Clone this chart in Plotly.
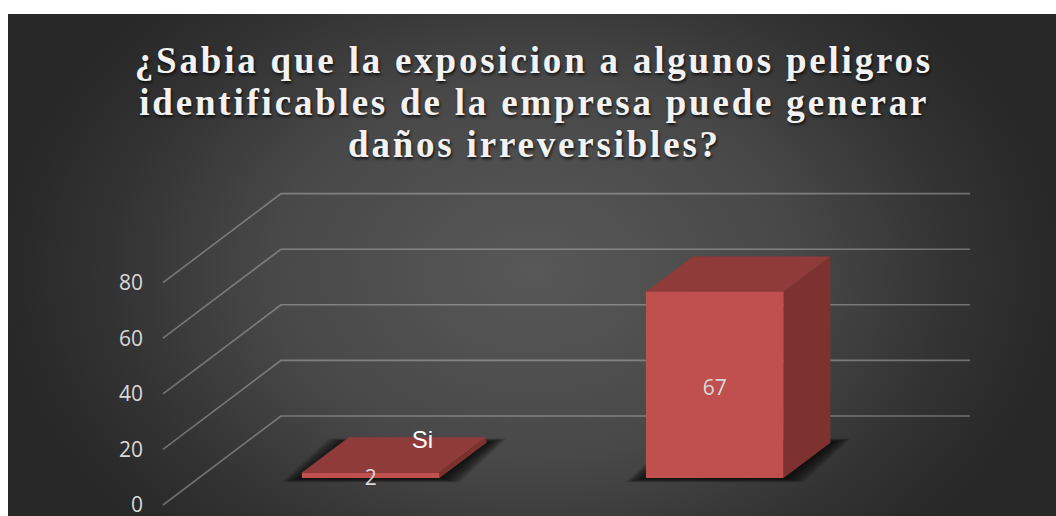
import plotly.graph_objects as go

# ---- data ----
categories = ["Si", "No"]
values = [2, 67]
y_ticks = [0, 20, 40, 60, 80]
title_lines = ["¿Sabia que la exposicion a algunos peligros",
               "identificables de la empresa puede generar",
               "daños irreversibles?"]

# ---- geometry of the oblique projection ----
W, H = 1056, 516
FIG_H = H + 12                       # a little taller than the window so the "0" label is kept
PX_PER_CAT = 344.0
PX_PER_VAL = 2.78
LEFT_PX, ZERO_PX = 163.0, 505.0      # pixel of category 0 / value 0 on the front edge
DEPTH_X = 118 / PX_PER_CAT           # one full depth, in category units
DEPTH_Y = 89 / PX_PER_VAL            # one full depth, in value units
AX_LEFT = 144
BAR_W = 0.4
D0, D1 = 0.303, 0.70
GRID_END = (970 - 163) / PX_PER_CAT
LABEL_DY = 4.5 / PX_PER_VAL
N = len(categories)


def pt(c, v, d=0.0):
    return c + d * DEPTH_X, v + d * DEPTH_Y


def poly(points, color, name, line=None):
    xs = [p[0] for p in points] + [points[0][0]]
    ys = [p[1] for p in points] + [points[0][1]]
    return go.Scatter(x=xs, y=ys, mode="lines", fill="toself", fillcolor=color,
                      line=dict(width=0.8 if line else 0, color=line or color),
                      xaxis="x2", yaxis="y2", hoverinfo="skip", name=name)


fig = go.Figure()

# background: radial gradient panel, clipped by its own axes to the panel area
fig.add_trace(go.Scatter(
    x=[0, 1, 1, 0, 0], y=[0, 0, 1, 1, 0], mode="lines", fill="toself",
    line=dict(width=0), hoverinfo="skip", xaxis="x", yaxis="y",
    fillgradient=dict(type="radial",
                      colorscale=[[0, "#585858"], [0.5, "#484848"], [0.8, "#333333"], [1, "#282828"]]),
))

# gridlines (side wall diagonal + back wall horizontal)
grid_color = "rgba(217,217,217,0.38)"
for t in y_ticks:
    a, b, c = pt(0, t), pt(0, t, 1), pt(GRID_END - DEPTH_X, t, 1)
    fig.add_trace(go.Scatter(x=[a[0], b[0], c[0]], y=[a[1], b[1], c[1]], mode="lines",
                             line=dict(color=grid_color, width=1.6),
                             xaxis="x2", yaxis="y2", hoverinfo="skip"))

# bars
for i, v in enumerate(values):
    cx = i + 0.5
    l, r = cx - BAR_W / 2, cx + BAR_W / 2
    # soft floor shadow
    for k in range(14, 0, -1):
        mx = k * 1.45 / PX_PER_CAT
        my = k * 0.3 / PX_PER_VAL
        fig.add_trace(poly([(pt(l, 0, D0)[0] - mx, pt(l, 0, D0)[1] - my),
                            (pt(r, 0, D0)[0] + mx, pt(r, 0, D0)[1] - my),
                            (pt(r, 0, D1)[0] + mx, pt(r, 0, D1)[1] + my),
                            (pt(l, 0, D1)[0] - mx, pt(l, 0, D1)[1] + my)],
                           "rgba(10,10,10,0.10)", "shadow"))
    # right side
    fig.add_trace(poly([pt(r, 0, D0), pt(r, 0, D1), pt(r, v, D1), pt(r, v, D0)],
                       "#7d3230", "side"))
    # top
    fig.add_trace(poly([pt(l, v, D0), pt(r, v, D0), pt(r, v, D1), pt(l, v, D1)],
                       "#8f3b39", "top"))
    # front
    fig.add_trace(poly([pt(l, 0, D0), pt(r, 0, D0), pt(r, v, D0), pt(l, v, D0)],
                       "#c0504d", "front"))

# value labels
lx, ly = [], []
for i, v in enumerate(values):
    p = pt(i + 0.5, v / 2, D0)
    lx.append(p[0]); ly.append(p[1] - LABEL_DY)
fig.add_trace(go.Scatter(x=lx, y=ly, mode="text", text=[str(v) for v in values],
                         textposition="middle center",
                         textfont=dict(family="Open Sans", size=21, color="#d9d9d9"),
                         xaxis="x2", yaxis="y2", hoverinfo="skip"))
# the only category label that shows
fig.add_trace(go.Scatter(x=[0.754], y=[22.6], mode="text", text=[categories[0]],
                         textposition="middle center",
                         textfont=dict(family="Liberation Sans", size=24, color="#ffffff"),
                         xaxis="x2", yaxis="y2", hoverinfo="skip"))

TITLE_FONT = dict(family="Liberation Serif", size=37, color="#f2f2f2", weight="bold",
                  shadow="1px 2px 3px rgba(0,0,0,0.75)")
for line, yc in zip(title_lines, [61, 102.5, 144.5]):
    fig.add_annotation(xref="paper", yref="paper", x=534 / W, y=1 - yc / FIG_H,
                       xanchor="center", yanchor="middle",
                       text=line, showarrow=False, font=TITLE_FONT, align="center")

fig.update_layout(
    width=W, height=FIG_H, showlegend=False, paper_bgcolor="#ffffff", plot_bgcolor="rgba(0,0,0,0)",
    margin=dict(l=0, r=0, t=0, b=0),
    # background axes: a wide gradient box centred on the panel
    xaxis=dict(domain=[8 / W, 1], range=[0, 1], visible=False, fixedrange=True),
    yaxis=dict(domain=[0, 1 - 14 / FIG_H], range=[0.16, 0.84], visible=False, fixedrange=True),
    xaxis2=dict(domain=[AX_LEFT / W, 1], anchor="y2", visible=False, fixedrange=True,
                range=[(AX_LEFT - LEFT_PX) / PX_PER_CAT, (W - LEFT_PX) / PX_PER_CAT]),
    yaxis2=dict(domain=[0, 1], anchor="x2", fixedrange=True,
                range=[(ZERO_PX - FIG_H) / PX_PER_VAL, ZERO_PX / PX_PER_VAL],
                tickmode="array", tickvals=y_ticks, ticktext=[str(t) for t in y_ticks],
                showgrid=False, zeroline=False, showline=False, ticks="",
                tickfont=dict(family="Open Sans", size=21, color="#d9d9d9")),
)

fig.write_html("out.html", config={"displayModeBar": False},
               post_script="""
document.documentElement.style.overflow='hidden';
document.body.style.margin='0';
document.body.style.overflow='hidden';
document.querySelectorAll('.annotation-text').forEach(function(t){
  t.style.letterSpacing='2.8px';
  t.style.webkitTextStroke='0.3px #f2f2f2';
});
document.querySelectorAll('.ytick text').forEach(function(t){
  t.setAttribute('dy','2');
});
""")
